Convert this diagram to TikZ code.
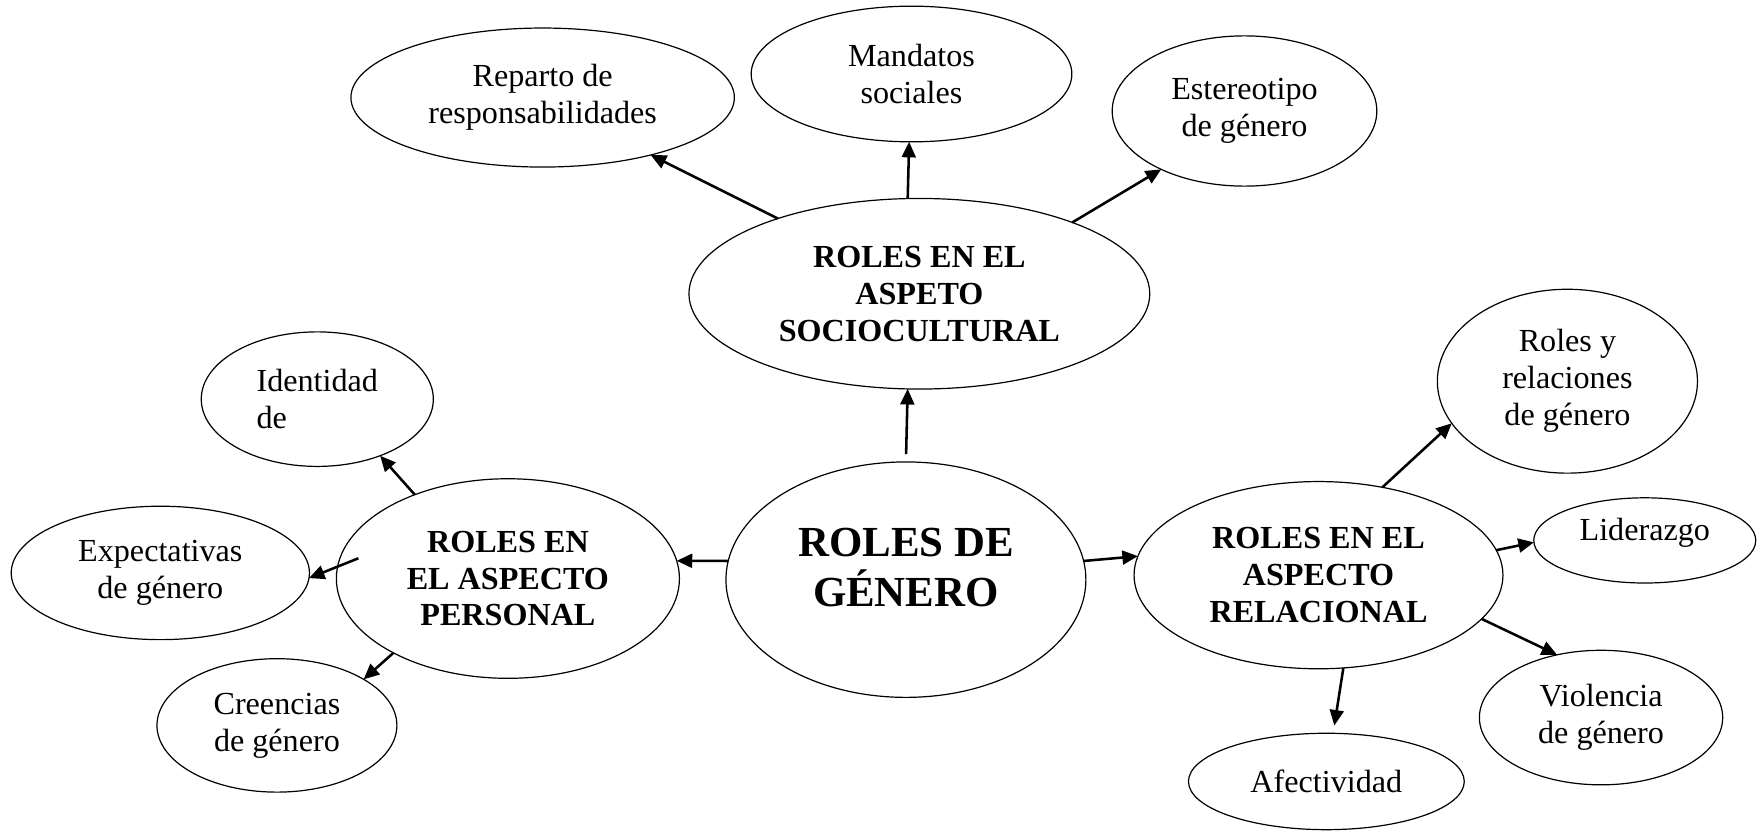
\documentclass[tikz,border=0pt]{standalone}
\usepackage{fontspec}
\setmainfont{Liberation Serif}
\usepackage{tikz}
\usetikzlibrary{positioning, arrows.meta, shapes.geometric}

\newdimen\px
\px=0.4185pt

\tikzset{
  burbuja/.style={draw, ellipse, line width=0.45pt, inner sep=0pt, outer sep=0pt,
    align=center, font=\fontsize{12}{13.8}\selectfont},
  titulo/.style={burbuja, font=\fontsize{12}{13.8}\selectfont\bfseries},
  flecha/.style={-{Triangle[length=5.8pt,width=5.2pt]}, line width=0.95pt},
}

\begin{document}
\begin{tikzpicture}[x=\px, y=-\px]
  \useasboundingbox (0,0) rectangle (1568,742);

  % centro
  \node[burbuja, minimum width=321\px, minimum height=210\px] (gen) at (808,517) {};
  \node[font=\fontsize{16}{18.8}\selectfont\bfseries, align=center] (gen-txt) at (808,506) {ROLES DE\\GÉNERO};

  % aspectos
  \node[titulo, minimum width=411\px, minimum height=170\px] (soc) at (820,262) {ROLES EN EL\\ASPETO\\SOCIOCULTURAL};
  \node[titulo, minimum width=306\px, minimum height=178\px] (per) at (453,516) {ROLES EN\\EL ASPECTO\\PERSONAL};
  \node[titulo, minimum width=329\px, minimum height=167\px] (rel) at (1176,513) {ROLES EN EL\\ASPECTO\\RELACIONAL};

  % sociocultural
  \node[burbuja, minimum width=342\px, minimum height=124\px] (rep) at (484,87) {Reparto de\\responsabilidades};
  \node[burbuja, minimum width=286\px, minimum height=121\px] (man) at (813,66) {Mandatos\\sociales};
  \node[burbuja, minimum width=236\px, minimum height=134\px] (est) at (1110,99) {Estereotipo\\de género};

  % personal
  \node[burbuja, minimum width=207\px, minimum height=120\px, align=left] (ide) at (283,356) {Identidad\\de};
  \node[burbuja, minimum width=266\px, minimum height=119\px] (exp) at (143,511) {Expectativas\\de género};
  \node[burbuja, minimum width=214\px, minimum height=119\px] (cre) at (247,647) {Creencias\\de género};

  % relacional
  \node[burbuja, minimum width=232\px, minimum height=164\px] (rya) at (1398,340) {Roles y\\relaciones\\de género};
  \node[burbuja, minimum width=198\px, minimum height=76\px] (lid) at (1467,482) {};
  \node[font=\fontsize{12}{13.8}\selectfont] (lid-txt) at (1467,475) {Liderazgo};
  \node[burbuja, minimum width=217\px, minimum height=120\px] (vio) at (1428,640) {Violencia\\de género};
  \node[burbuja, minimum width=246\px, minimum height=86\px] (afe) at (1183,697) {Afectividad};

  % flechas
  \draw[flecha, shorten <=7\px] (gen.north) -- (soc.263);
  \draw[flecha] (gen.174) -- (per.6);
  \draw[flecha] (gen.6) -- (rel.174);

  \draw[flecha] (soc.152) -- (rep.332);
  \draw[flecha] (soc.97) -- (man.268);
  \draw[flecha] (soc.25) -- (est.215);

  \draw[flecha] (per.138) -- (ide.318);
  \draw[flecha, shorten <=-20\px] (per.176) -- (exp.358);
  \draw[flecha] (per.213) -- (cre.28);

  \draw[flecha] (rel.54) -- (rya.200);
  \draw[flecha] (rel.8) -- (lid.181);
  \draw[flecha] (rel.345) -- (vio.125);
  \draw[flecha, shorten >=7\px] (rel.285) -- (afe.82);
\end{tikzpicture}
\end{document}
